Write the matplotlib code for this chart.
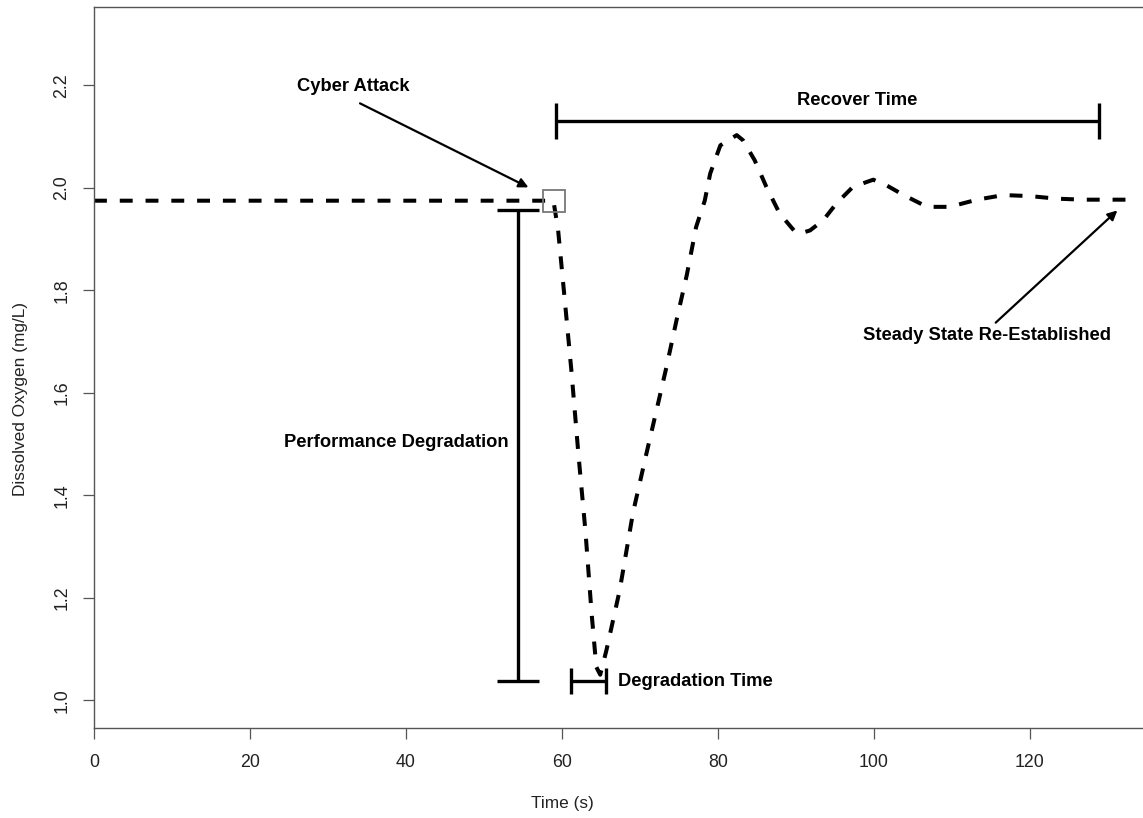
import matplotlib
matplotlib.use("Agg")
import matplotlib.pyplot as plt
import numpy as np

plt.rcParams['font.family'] = ['Liberation Sans', 'DejaVu Sans']

# dissolved oxygen response
time_s = [0, 58.9, 59.5, 60.4, 61.2, 62.1, 63.0, 63.8, 64.4, 64.9, 65.7, 67.4,
          69.1, 70.8, 72.1, 73.4, 74.7, 76.0, 77.2, 78.3, 79.0, 80.3, 82.4, 83.2,
          84.7, 86.2, 87.9, 89.9, 90.5, 91.8, 93.5, 95.2, 97.3, 99.9, 101.6,
          103.8, 106.8, 109.7, 113.2, 116.6, 120.0, 123.4, 126.8, 130.3, 133.7]
do_mgl = [1.975, 1.975, 1.918, 1.774, 1.644, 1.481, 1.331, 1.169, 1.065, 1.050,
          1.098, 1.215, 1.366, 1.480, 1.565, 1.651, 1.743, 1.830, 1.924, 1.975,
          2.028, 2.083, 2.103, 2.093, 2.054, 2.002, 1.950, 1.914, 1.911, 1.917,
          1.937, 1.970, 2.002, 2.016, 2.005, 1.986, 1.963, 1.963, 1.977, 1.986,
          1.984, 1.979, 1.977, 1.977, 1.977]

attack_pt = (59.0, 1.974)
recover_span = (59.2, 128.8)      # time interval, drawn at recover_level
recover_level = 2.130
perf_span = (1.037, 1.956)        # DO interval, drawn at perf_time
perf_time = 54.4
degr_span = (61.2, 65.7)
degr_level = 1.037

xticks = [0, 20, 40, 60, 80, 100, 120]
yticks = [1.0, 1.2, 1.4, 1.6, 1.8, 2.0, 2.2]

fig = plt.figure(figsize=(11.43, 8.18), dpi=100)
ax = fig.add_axes([94/1143, 1 - 728/818, 1049/1143, 721/818])

ax.plot(time_s, do_mgl, color='black', lw=2.9, linestyle=(0, (3.2, 3.2)))
ax.plot(*attack_pt, marker='s', ms=16, mfc='none', mec='#777777', mew=1.3)

# interval bars
ax.errorbar(np.mean(recover_span), recover_level,
            xerr=(recover_span[1] - recover_span[0]) / 2,
            fmt='none', ecolor='black', elinewidth=2.4, capsize=13, capthick=2.4)
ax.errorbar(perf_time, np.mean(perf_span),
            yerr=(perf_span[1] - perf_span[0]) / 2,
            fmt='none', ecolor='black', elinewidth=2.4, capsize=14.8, capthick=2.4)
ax.errorbar(np.mean(degr_span), degr_level,
            xerr=(degr_span[1] - degr_span[0]) / 2,
            fmt='none', ecolor='black', elinewidth=2.4, capsize=9.4, capthick=2.4)

bold = dict(fontsize=13.2, fontweight='bold', color='black')
ax.text(97.8, 2.171, 'Recover Time', ha='center', va='center', **bold)
ax.text(38.8, 1.504, 'Performance Degradation', ha='center', va='center', **bold)
ax.text(67.2, 1.037, 'Degradation Time', ha='left', va='center', **bold)

arrow = dict(arrowstyle='-|>', lw=1.6, color='black', mutation_scale=14,
             shrinkA=0, shrinkB=0)
ax.annotate('Cyber Attack', xy=(55.7, 2.001), xytext=(33.3, 2.197),
            ha='center', va='center', **bold)
ax.annotate('', xy=(55.7, 2.001), xytext=(34.1, 2.165), arrowprops=arrow)
ax.annotate('Steady State Re-Established', xy=(131.2, 1.956), xytext=(114.5, 1.712),
            ha='center', va='center', **bold)
ax.annotate('', xy=(131.2, 1.956), xytext=(115.6, 1.737), arrowprops=arrow)

ax.set_xlim(0, 1049/7.8)
ax.set_ylim(0.946, 2.353)
ax.set_xticks(xticks)
ax.set_xticklabels([str(t) for t in xticks])
ax.set_yticks(yticks)
ax.set_yticklabels(['%.1f' % t for t in yticks], rotation=90, va='center')

for side in ['left', 'top', 'bottom']:
    ax.spines[side].set_color('#555555')
    ax.spines[side].set_linewidth(1.0)
ax.spines['right'].set_visible(False)
ax.tick_params(direction='out', length=7.9, width=0.9, color='#555555',
               labelsize=12.8, labelcolor='#222222')
ax.tick_params(axis='x', pad=11)
ax.tick_params(axis='y', pad=9)

ax.set_xlabel('Time (s)', fontsize=12.4, color='#222222')
ax.set_ylabel('Dissolved Oxygen (mg/L)', fontsize=12.4, color='#222222')
ax.xaxis.set_label_coords(468/1049, -68/721)
ax.yaxis.set_label_coords(-66/1049, 329/721)

plt.savefig('out.png', dpi=100)
